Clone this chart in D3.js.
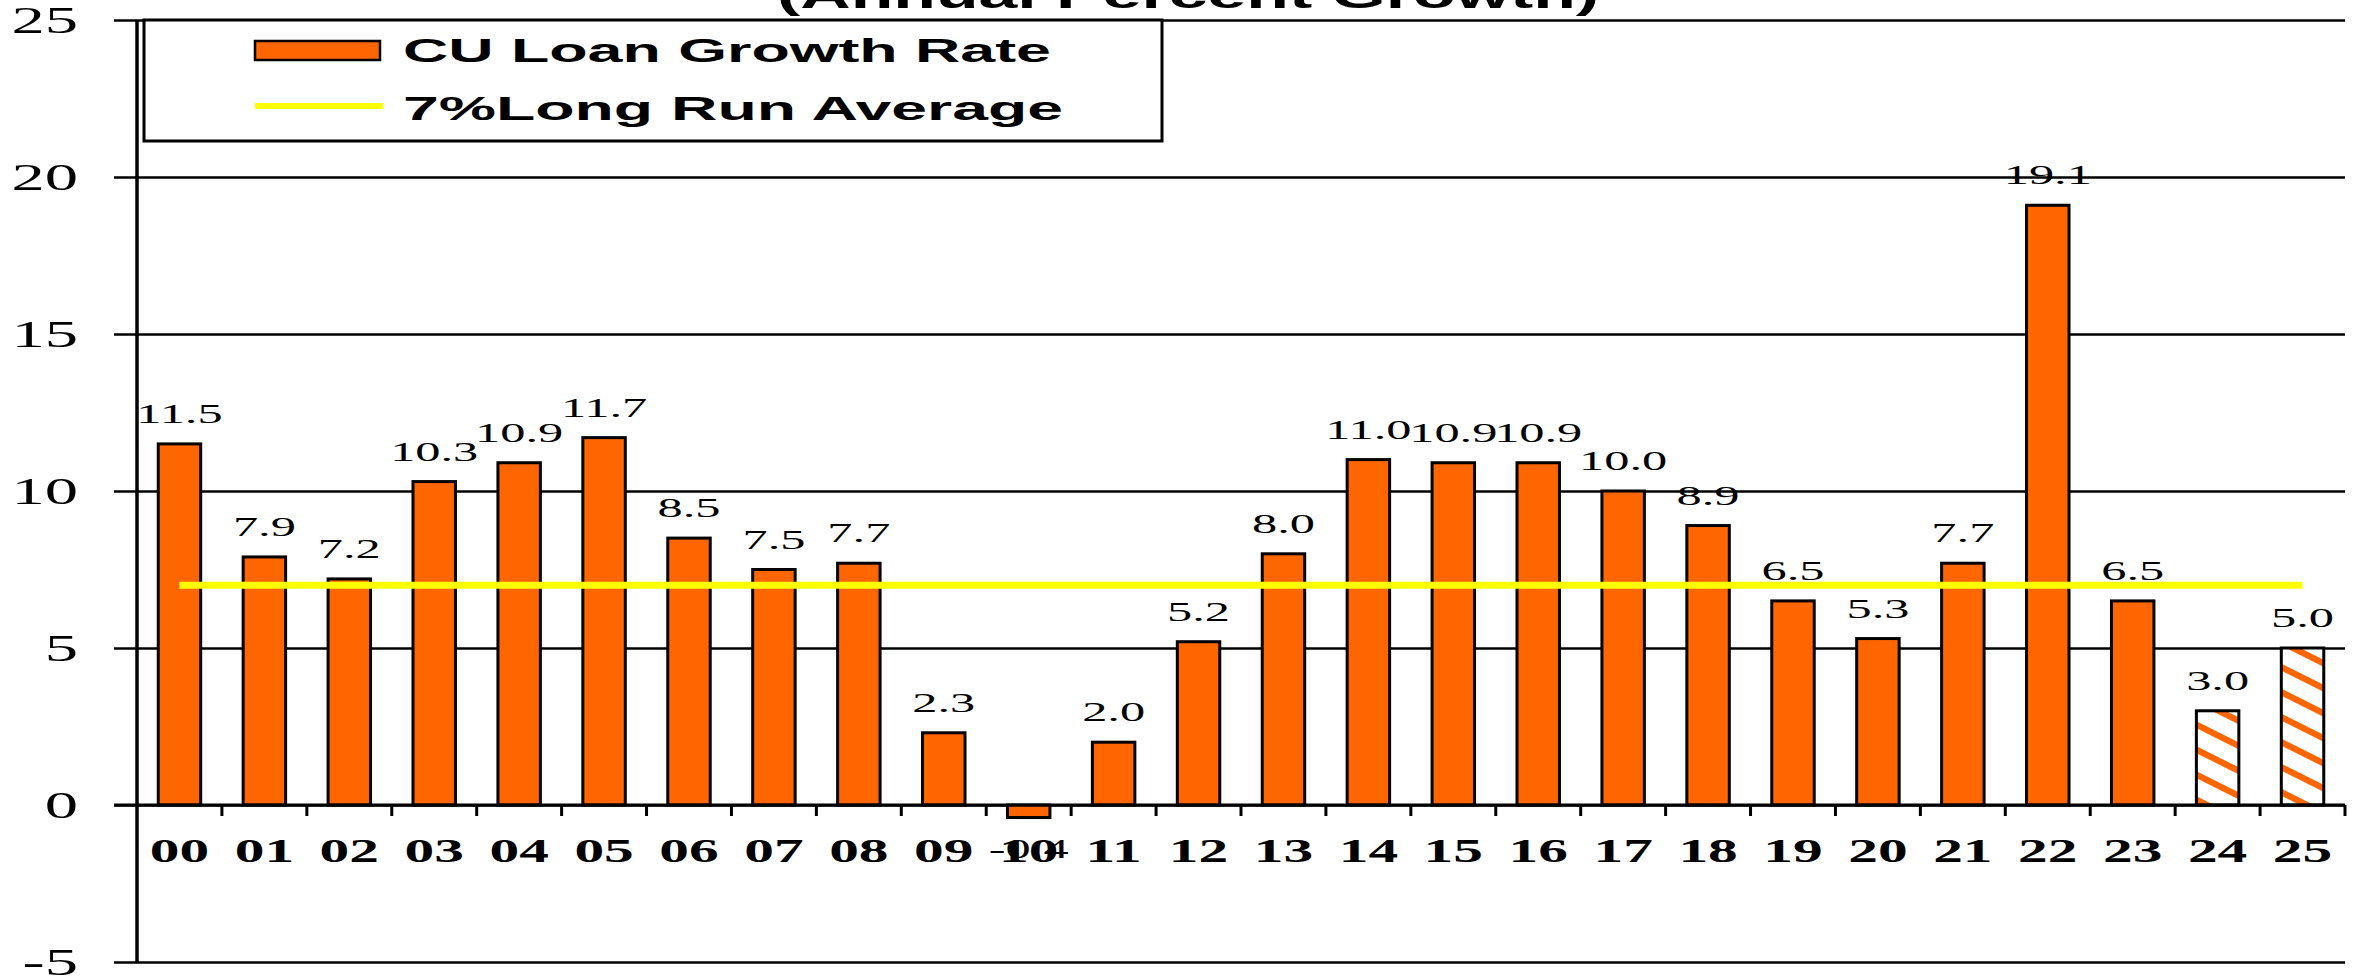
<!DOCTYPE html>
<html>
<head>
<meta charset="utf-8">
<script src="https://cdn.jsdelivr.net/npm/d3@7"></script>
<style>
  body { margin: 0; background: #fff; }
  svg { display: block; }
</style>
</head>
<body>
<div id="wrapper"></div>
<script>
// data
const years = ["00","01","02","03","04","05","06","07","08","09","10","11","12",
  "13","14","15","16","17","18","19","20","21","22","23","24","25"]
const growth = [11.5, 7.9, 7.2, 10.3, 10.9, 11.7, 8.5, 7.5, 7.7, 2.3, -0.4, 2.0, 5.2,
  8.0, 11.0, 10.9, 10.9, 10.0, 8.9, 6.5, 5.3, 7.7, 19.1, 6.5, 3.0, 5.0]
const forecastYears = ["24", "25"]
const longRunAverage = 7
const yTicks = [-5, 0, 5, 10, 15, 20, 25]
const legendLabels = ["CU Loan Growth Rate", "7%Long Run Average"]
const titleText = "(Annual Percent Growth)"

function drawBars() {
    const data = years.map((yr, i) => ({ year: yr, value: growth[i] }))

    let dimensions = {
      width: 2364,
      height: 978,
      margin: {
        top: 20,
        right: 19,
        bottom: 16,
        left: 137,
      },
    }
    dimensions.boundedWidth = dimensions.width
      - dimensions.margin.left
      - dimensions.margin.right
    dimensions.boundedHeight = dimensions.height
      - dimensions.margin.top
      - dimensions.margin.bottom

    // the source picture is stretched sideways, so text is too
    const stretch = 1.8
    const orange = "#ff6600"
    const serif = "'Liberation Serif', 'Times New Roman', serif"
    const sans = "'Liberation Sans', Arial, sans-serif"

    const wrapper = d3.select("#wrapper")
      .append("svg")
        .attr("width", dimensions.width)
        .attr("height", dimensions.height)

    // hatch for the forecast bars
    const defs = wrapper.append("defs")
    const hatch = defs.append("pattern")
        .attr("id", "hatch")
        .attr("patternUnits", "userSpaceOnUse")
        .attr("width", 50)
        .attr("height", 25)
    hatch.append("rect")
        .attr("width", 50).attr("height", 25).attr("fill", "#fff")
    ;[-25, 0, 25].forEach(c => {
      hatch.append("line")
          .attr("x1", -10).attr("y1", c - 5)
          .attr("x2", 60).attr("y2", c + 30)
          .attr("stroke", orange)
          .attr("stroke-width", 6.3)
    })

    const bounds = wrapper.append("g")
        .attr("transform", `translate(${dimensions.margin.left},${dimensions.margin.top})`)

    const xScale = d3.scaleBand()
        .domain(years)
        .range([0, dimensions.boundedWidth])
        .paddingInner(0.5)
        .paddingOuter(0.25)

    const yScale = d3.scaleLinear()
        .domain([d3.min(yTicks), d3.max(yTicks)])
        .range([dimensions.boundedHeight, 0])

    // gridlines + y labels
    const yAxisGenerator = d3.axisLeft()
        .scale(yScale)
        .tickValues(yTicks)
        .tickSize(-dimensions.boundedWidth)
        .tickSizeOuter(0)
        .tickFormat(d => String(d))

    const yAxis = bounds.append("g").call(yAxisGenerator)
    yAxis.select(".domain").remove()
    yAxis.selectAll(".tick line")
        .attr("x1", -23)
        .attr("x2", dimensions.boundedWidth)
        .attr("stroke", "#000")
        .attr("stroke-width", 2.6)
    yAxis.selectAll(".tick text")
        .attr("x", 0)
        .attr("dy", null)
        .attr("fill", "#000")
        .attr("text-anchor", "end")
        .style("font-family", serif)
        .style("font-size", "37px")
        .attr("transform", `translate(-59,12.5) scale(${stretch},1)`)

    // bars
    const barGap = (xScale.step() - xScale.bandwidth()) / 2
    bounds.append("g")
      .selectAll("rect")
      .data(data)
      .join("rect")
        .attr("x", d => xScale(d.year))
        .attr("y", d => yScale(Math.max(d.value, 0)))
        .attr("width", xScale.bandwidth())
        .attr("height", d => Math.abs(yScale(d.value) - yScale(0)))
        .attr("fill", d => forecastYears.includes(d.year) ? "url(#hatch)" : orange)
        .attr("stroke", "#000")
        .attr("stroke-width", 3)

    // zero line on top of the bar bottoms
    bounds.append("line")
        .attr("x1", -23)
        .attr("x2", dimensions.boundedWidth)
        .attr("y1", yScale(0))
        .attr("y2", yScale(0))
        .attr("stroke", "#000")
        .attr("stroke-width", 3)

    // category ticks sit between the bars
    const boundaries = years.slice(1).map(yr => xScale(yr) - barGap)
    boundaries.push(xScale(years[years.length - 1]) + xScale.bandwidth() + barGap)
    bounds.append("g")
      .selectAll("line")
      .data(boundaries)
      .join("line")
        .attr("x1", d => d)
        .attr("x2", d => d)
        .attr("y1", yScale(0))
        .attr("y2", yScale(0) + 11)
        .attr("stroke", "#000")
        .attr("stroke-width", 3)

    const xAxisGenertor = d3.axisBottom()
        .scale(xScale)
        .tickSize(0)

    const xAxis = bounds.append("g").call(xAxisGenertor)
        .attr("transform", `translate(0,${yScale(0)})`)
    xAxis.select(".domain").remove()
    xAxis.selectAll(".tick text")
        .attr("y", 0)
        .attr("dy", null)
        .attr("fill", "#000")
        .style("font-family", serif)
        .style("font-weight", "bold")
        .style("font-size", "33px")
        .attr("transform", `translate(0,57) scale(${stretch},1)`)

    // y axis line
    bounds.append("line")
        .attr("x1", 0).attr("x2", 0)
        .attr("y1", 0).attr("y2", dimensions.boundedHeight)
        .attr("stroke", "#000")
        .attr("stroke-width", 3.5)

    // value labels
    bounds.append("g")
      .selectAll("text")
      .data(data)
      .join("text")
        .attr("text-anchor", "middle")
        .style("font-family", serif)
        .style("font-size", "28px")
        .attr("fill", "#000")
        .attr("transform", d => {
          const cx = xScale(d.year) + xScale.bandwidth() / 2
          const cy = d.value >= 0 ? yScale(d.value) - 21 : yScale(d.value) + 40
          return `translate(${cx},${cy}) scale(${stretch},1)`
        })
        .text(d => d.value.toFixed(1))

    // long run average
    bounds.append("line")
        .attr("x1", xScale(years[0]) + xScale.bandwidth() / 2)
        .attr("x2", xScale(years[years.length - 1]) + xScale.bandwidth() / 2)
        .attr("y1", yScale(longRunAverage))
        .attr("y2", yScale(longRunAverage))
        .attr("stroke", "#ffff00")
        .attr("stroke-width", 7)

    // legend
    const legend = wrapper.append("g")
    legend.append("rect")
        .attr("x", 144).attr("y", 20)
        .attr("width", 1018).attr("height", 121)
        .attr("fill", "#fff")
        .attr("stroke", "#000")
        .attr("stroke-width", 3)
    legend.append("rect")
        .attr("x", 255).attr("y", 41)
        .attr("width", 125).attr("height", 19)
        .attr("fill", orange)
        .attr("stroke", "#000")
        .attr("stroke-width", 2.5)
    legend.append("line")
        .attr("x1", 255).attr("x2", 383)
        .attr("y1", 106).attr("y2", 106)
        .attr("stroke", "#ffff00")
        .attr("stroke-width", 6)
    legend.selectAll("text")
      .data(legendLabels)
      .join("text")
        .attr("x", 403)
        .attr("y", (d, i) => i === 0 ? 62 : 120)
        .attr("textLength", (d, i) => i === 0 ? 648 : 660)
        .attr("lengthAdjust", "spacingAndGlyphs")
        .style("font-family", sans)
        .style("font-weight", "bold")
        .style("font-size", "33px")
        .text(d => d)

    // title, cut off by the top edge
    wrapper.append("text")
        .attr("x", 1188)
        .attr("y", 8)
        .attr("text-anchor", "middle")
        .attr("textLength", 822)
        .attr("lengthAdjust", "spacingAndGlyphs")
        .style("font-family", sans)
        .style("font-weight", "bold")
        .style("font-size", "38px")
        .text(titleText)
}

drawBars()
</script>
</body>
</html>
